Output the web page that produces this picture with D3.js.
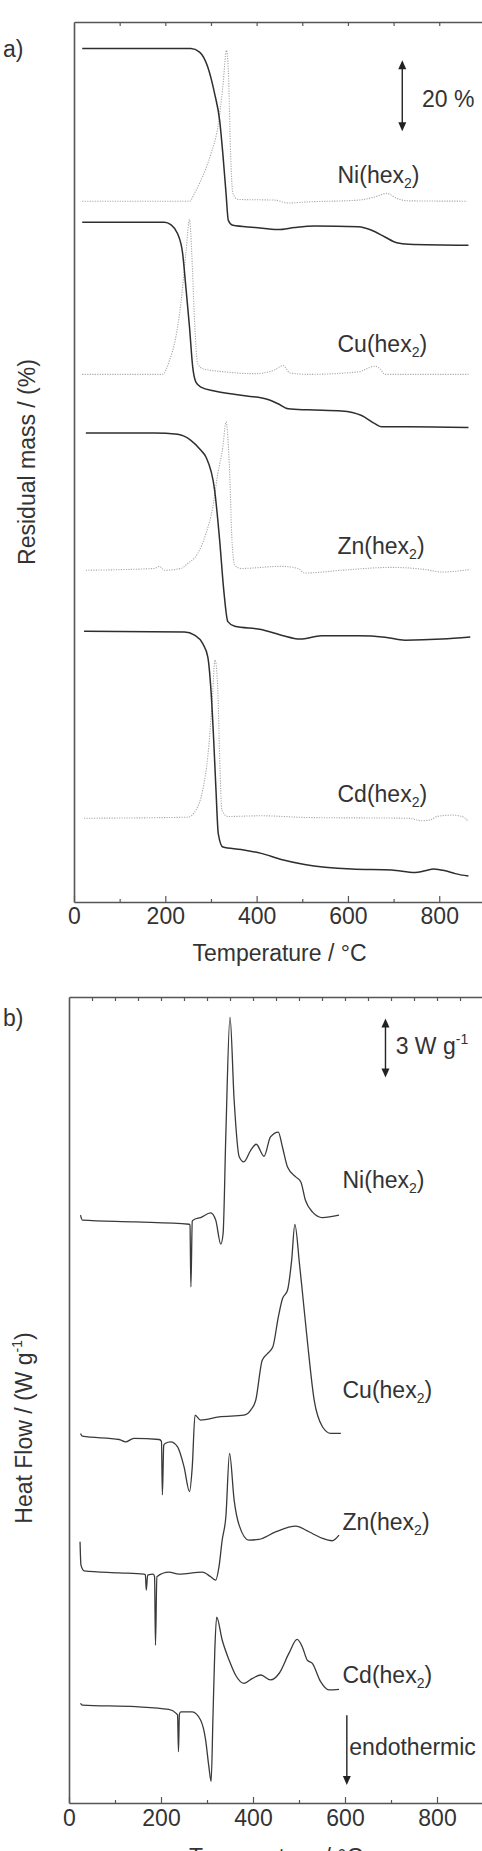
<!DOCTYPE html>
<html>
<head>
<meta charset="utf-8">
<script src="https://cdn.jsdelivr.net/npm/d3@7"></script>
<style>
body { margin: 0; background: #fff; }
svg { display: block; font-family: "Liberation Sans", Arial, sans-serif; }
</style>
</head>
<body>
<div class="chart"></div>
<script>
// ---- a) TG (residual mass %) and DTG (arb.), temperature in C ----
const names = ["Ni", "Cu", "Zn", "Cd"];

const niTG = [[18,100],[256,100],[275,99.0],[293,94.8],[308,87.3],[319,79.8],[326,70.4],[333,59.2],[338,51.6],[348,50.2],[396,49.6],[447,49.0],[484,49.6],[527,50.0],[623,49.8],[652,48.8],[681,46.9],[707,45.3],[733,44.9],[864,44.6]];
const cuTG = [[18,100],[198,100],[212,99.3],[227,96.7],[238,91.1],[245,81.7],[253,70.4],[260,59.2],[267,54.9],[278,53.5],[308,52.4],[366,51.2],[425,50.0],[447,48.8],[469,47.4],[513,47.1],[586,46.8],[630,45.5],[659,43.2],[674,42.3],[733,42.3],[864,42.1]];
const znTG = [[26,100],[176,100],[227,99.6],[256,97.9],[278,95.1],[289,93.2],[308,83.9],[319,69.8],[328,55.7],[337,46.8],[352,45.5],[410,44.6],[454,43.0],[495,41.9],[542,42.8],[623,42.8],[681,42.4],[725,41.6],[806,41.9],[868,42.5]];
const cdTG = [[22,100],[242,99.8],[264,98.9],[282,96.5],[293,92.8],[300,83.4],[306,69.3],[311,55.2],[316,43.0],[326,39.2],[366,38.5],[410,37.4],[454,35.7],[505,34.3],[608,33.0],[696,32.7],[747,32.0],[769,32.5],[788,33.0],[813,32.5],[835,31.7],[864,31.0]];

const niDTG = [[18,0],[253,0],[265,2.5],[278,5.9],[300,13.4],[315,20.9],[326,32.2],[334,42.5],[338,36.9],[343,13.4],[348,2.2],[359,0.5],[440,0.3],[469,-0.5],[513,-0.2],[623,0.3],[659,1.2],[685,2.2],[707,0.8],[733,0.1],[861,0]];
const cuDTG = [[18,0],[194,0],[209,3.9],[223,10.5],[234,19.9],[245,34.0],[253,43.6],[258,34.0],[264,15.2],[271,3.0],[282,1.6],[330,0.7],[396,0.2],[440,1.3],[458,2.5],[473,0.4],[513,0],[623,0.7],[659,2.3],[670,1.6],[681,0],[864,0]];
const znDTG = [[26,0],[176,0.5],[187,1.1],[198,0],[234,0.5],[249,1.9],[271,4.7],[289,10.3],[304,17.8],[315,27.2],[326,34.7],[333,41.8],[341,27.2],[346,8.5],[352,1.4],[366,0.5],[454,1.1],[491,0.5],[505,-0.8],[586,0],[696,0.8],[769,0.2],[806,-0.5],[868,0.2]];
const cdDTG = [[22,0],[249,0.3],[267,2.3],[282,8.0],[293,17.4],[302,31.5],[309,44.6],[315,36.2],[319,17.4],[324,2.3],[337,0.5],[410,0.7],[513,0.2],[733,0],[762,-0.7],[780,-0.5],[795,0.5],[828,0.9],[850,0.5],[864,-0.9]];

const tgOffsets = [140.5, 91.6, 32.2, -23.7];
const dtgBase = [197.5, 148.7, 93.5, 23.6];

// ---- b) DSC heat flow (W/g) ----
const niDSC = [[25,0],[29,-0.25],[145,-0.34],[261,-0.46],[263,-0.5],[265,-3.65],[268,-0.3],[272,-0.22],[286,-0.12],[308,0.12],[319,-0.25],[330,-1.47],[335,-0.93],[341,4.15],[350,10.08],[359,5.85],[370,2.97],[380,2.71],[395,3.30],[407,3.61],[424,3.00],[438,3.98],[455,4.23],[464,3.47],[475,2.45],[493,1.95],[504,1.69],[514,0.76],[529,0.17],[551,-0.12],[587,0]];
const cuDSC = [[25,0],[29,-0.14],[109,-0.31],[123,-0.43],[141,-0.25],[196,-0.31],[201,-0.4],[203,-3.13],[206,-0.6],[209,-0.51],[221,-0.43],[236,-0.68],[250,-1.69],[262,-2.96],[268,-1.69],[274,0.93],[286,0.68],[326,0.84],[380,0.93],[395,1.19],[406,1.69],[420,3.72],[431,4.05],[443,4.39],[455,5.92],[464,6.85],[475,7.28],[484,8.80],[491,10.63],[501,8.63],[507,7.28],[518,4.74],[533,1.69],[551,0.34],[569,0],[591,0]];
const znDSC = [[24,1.58],[26,0.39],[33,0.10],[109,0],[163,-0.07],[166,-0.1],[168,-0.88],[171,-0.12],[183,-0.07],[186,-0.2],[188,-3.68],[191,-0.2],[217,0.03],[239,-0.07],[290,0.03],[308,-0.20],[319,-0.37],[326,0.30],[333,1.66],[341,2.85],[349,6.07],[359,3.70],[370,2.41],[391,1.66],[413,1.70],[449,2.08],[493,2.37],[518,2.13],[529,2.00],[551,1.75],[572,1.63],[587,1.92]];
const cdDSC = [[25,0],[29,-0.09],[145,-0.17],[217,-0.31],[233,-0.51],[236,-0.6],[238,-2.46],[240,-0.55],[243,-0.43],[268,-0.43],[286,-0.85],[297,-1.86],[304,-3.21],[309,-3.97],[313,-0.68],[317,2.71],[321,4.39],[333,3.22],[348,2.20],[362,1.44],[380,1.02],[399,1.27],[417,1.44],[438,1.19],[457,1.53],[478,2.54],[496,3.25],[507,2.88],[518,2.20],[529,2.03],[547,1.10],[565,0.68],[587,0.71]];

const dscOffsets = [29.9, 18.8, 11.71, 5.07];

const tickMajor = [0, 200, 400, 600, 800];

const tgData = [niTG, cuTG, znTG, cdTG];
const dtgData = [niDTG, cuDTG, znDTG, cdDTG];
const dscData = [niDSC, cuDSC, znDSC, cdDSC];

const textCol = "#333";
const axisCol = "#555";

const svg = d3.select(".chart").append("svg")
  .attr("width", 482)
  .attr("height", 1851);

svg.append("rect").attr("width", 482).attr("height", 1851).attr("fill", "#fff");

const xA = d3.scaleLinear().domain([0, 900]).range([74, 484.9]);
const yA = d3.scaleLinear().domain([0, 248]).range([902, 22]);
const xB = d3.scaleLinear().domain([0, 900]).range([69, 483]);
const yB = d3.scaleLinear().domain([0, 41]).range([1803, 997]);

function frame(x, y, topStep, pad) {
  const bottom = y.range()[0], top = y.range()[1], left = x.range()[0];

  const major = svg.append("g")
    .attr("transform", `translate(0,${bottom})`)
    .call(d3.axisBottom(x).tickValues(tickMajor).tickSizeInner(-6).tickSizeOuter(0).tickPadding(pad));
  major.selectAll("text")
    .attr("font-size", 23).attr("font-family", "Liberation Sans, Arial, sans-serif").attr("fill", textCol);

  const minor = svg.append("g")
    .attr("transform", `translate(0,${bottom})`)
    .call(d3.axisBottom(x).tickValues([100, 300, 500, 700]).tickSize(-3).tickFormat(""));
  minor.select(".domain").remove();

  svg.append("g")
    .attr("transform", `translate(0,${top})`)
    .call(d3.axisTop(x).tickValues(d3.range(topStep, 900, topStep)).tickSizeInner(-4).tickSizeOuter(0).tickFormat(""));

  svg.append("g")
    .attr("transform", `translate(${left},0)`)
    .call(d3.axisLeft(y).tickValues([]).tickSizeOuter(0));
}

frame(xA, yA, 100, 6);
frame(xB, yB, 50, 7);

svg.selectAll(".domain").attr("stroke", axisCol).attr("stroke-width", 1.6);
svg.selectAll(".tick line").attr("stroke", axisCol).attr("stroke-width", 1.2);

// curves
const lineA = off => d3.line()
  .x(d => xA(d[0]))
  .y(d => yA(d[1] + off))
  .curve(d3.curveMonotoneX);

const lineB = off => d3.line()
  .x(d => xB(d[0]))
  .y(d => yB(d[1] + off))
  .curve(d3.curveMonotoneX);

dtgData.forEach((s, i) => {
  svg.append("path")
    .attr("d", lineA(dtgBase[i])(s))
    .attr("fill", "none")
    .attr("stroke", "#a8a8a8")
    .attr("stroke-width", 1.1)
    .attr("stroke-dasharray", "1.2,1.3");
});

tgData.forEach((s, i) => {
  svg.append("path")
    .attr("d", lineA(tgOffsets[i])(s))
    .attr("fill", "none")
    .attr("stroke", "#2e2e2e")
    .attr("stroke-width", 1.5);
});

dscData.forEach((s, i) => {
  svg.append("path")
    .attr("d", lineB(dscOffsets[i])(s))
    .attr("fill", "none")
    .attr("stroke", "#3a3a3a")
    .attr("stroke-width", 1.3);
});

// text helpers
function label(x, y, txt) {
  return svg.append("text")
    .attr("x", x).attr("y", y)
    .attr("font-size", 23)
    .attr("fill", textCol)
    .text(txt);
}

function seriesLabel(x, y, name) {
  const t = label(x, y, name + "(hex");
  t.append("tspan").attr("font-size", 14).attr("dy", 5).text("2");
  t.append("tspan").attr("dy", -5).text(")");
}

// panel a text
label(3, 57, "a)");
const labelPosA = [183.3, 351.7, 554, 802.3];
names.forEach((n, i) => seriesLabel(337.5, labelPosA[i], n));

label(422, 106.7, "20 %");

label(279.5, 961, "Temperature / °C").attr("text-anchor", "middle");

svg.append("text")
  .attr("transform", "translate(35,462) rotate(-90)")
  .attr("text-anchor", "middle")
  .attr("font-size", 23)
  .attr("fill", textCol)
  .text("Residual mass / (%)");

// panel b text
label(3, 1026, "b)");
const labelPosB = [1188.3, 1398.3, 1530, 1683.3];
names.forEach((n, i) => seriesLabel(342.5, labelPosB[i], n));

const wg = label(395.7, 1054, "3 W g");
wg.append("tspan").attr("font-size", 14).attr("dy", -10).text("-1");

label(349.3, 1755, "endothermic");

label(276, 1865, "Temperature / °C").attr("text-anchor", "middle");

const hf = svg.append("text")
  .attr("transform", "translate(32,1428) rotate(-90)")
  .attr("text-anchor", "middle")
  .attr("font-size", 23)
  .attr("fill", textCol)
  .text("Heat Flow / (W g");
hf.append("tspan").attr("font-size", 14).attr("dy", -10).text("-1");
hf.append("tspan").attr("dy", 10).text(")");

// scale arrows (in data units)
function arrow(x, y1, y2, both) {
  const g = svg.append("g").attr("stroke", "#222").attr("fill", "#222");
  g.append("line").attr("x1", x).attr("x2", x).attr("y1", y1 + (both ? 6 : 0)).attr("y2", y2 - 6).attr("stroke-width", 1.4);
  g.append("path").attr("d", `M${x - 4},${y2 - 9}L${x + 4},${y2 - 9}L${x},${y2}Z`).attr("stroke", "none");
  if (both) g.append("path").attr("d", `M${x - 4},${y1 + 9}L${x + 4},${y1 + 9}L${x},${y1}Z`).attr("stroke", "none");
}

arrow(xA(719), yA(237.2), yA(217.2), true);
arrow(xB(688), yB(39.9), yB(36.9), true);
arrow(xB(604), yB(4.47), yB(0.92), false);
</script>
</body>
</html>
